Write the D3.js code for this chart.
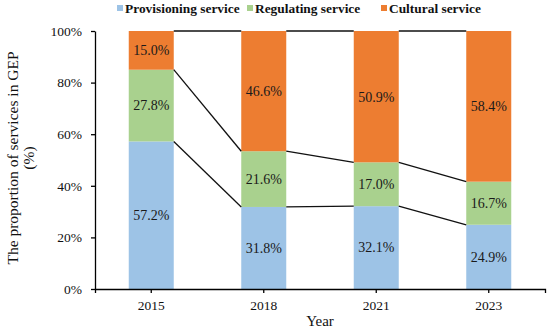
<!DOCTYPE html>
<html>
<head>
<meta charset="utf-8">
<script src="https://cdn.jsdelivr.net/npm/d3@7"></script>
<style>
  body { margin: 0; background: #fff; }
  svg { display: block; }
  svg text { font-family: "Liberation Serif", "Times New Roman", "DejaVu Serif", serif; }
</style>
</head>
<body>
<div id="chart"></div>
<script>
// chart data
var years = ["2015", "2018", "2021", "2023"];
var seriesNames = ["Provisioning service", "Regulating service", "Cultural service"];
var provisioning = [57.2, 31.8, 32.1, 24.9];
var regulating = [27.8, 21.6, 17.0, 16.7];
var cultural = [15.0, 46.6, 50.9, 58.4];
var yTicks = [0, 0.2, 0.4, 0.6, 0.8, 1.0];
var colors = ["#9DC3E6", "#A9D18E", "#ED7D31"];

var svgWidth = 550;
var svgHeight = 330;
var margin = { top: 31, right: 5, bottom: 41, left: 95 };
var chartWidth = svgWidth - margin.left - margin.right;
var chartHeight = svgHeight - margin.top - margin.bottom;

var svg = d3.select("#chart")
  .append("svg")
  .attr("width", svgWidth)
  .attr("height", svgHeight);

var chartGroup = svg.append("g")
  .attr("transform", `translate(${margin.left}, ${margin.top})`);

// build rows for stacking
var rows = years.map(function(y, i) {
  return { year: y, p: provisioning[i], r: regulating[i], c: cultural[i] };
});
var stack = d3.stack().keys(["p", "r", "c"]);
var layers = stack(rows);

var xScale = d3.scaleBand()
  .domain(years)
  .range([0, chartWidth])
  .paddingInner(0.6)
  .paddingOuter(0.3);

var yScale = d3.scaleLinear()
  .domain([0, 100])
  .range([chartHeight, 0]);

var bw = xScale.bandwidth();

// bars
var layerGroups = chartGroup.selectAll(".layer")
  .data(layers)
  .enter().append("g")
  .attr("class", "layer")
  .attr("fill", (d, i) => colors[i]);

layerGroups.selectAll("rect")
  .data(d => d)
  .enter().append("rect")
  .attr("x", d => xScale(d.data.year))
  .attr("y", d => yScale(d[1]))
  .attr("width", bw)
  .attr("height", d => yScale(d[0]) - yScale(d[1]));

// connector lines between the bars
layers.forEach(function(layer) {
  for (var i = 0; i < layer.length - 1; i++) {
    chartGroup.append("line")
      .attr("x1", xScale(years[i]) + bw)
      .attr("y1", yScale(layer[i][1]))
      .attr("x2", xScale(years[i + 1]))
      .attr("y2", yScale(layer[i + 1][1]))
      .attr("stroke", "#111")
      .attr("stroke-width", 1.3);
  }
});

// value labels
layers.forEach(function(layer, k) {
  chartGroup.selectAll(".lbl" + k)
    .data(layer)
    .enter().append("text")
    .attr("class", "lbl" + k)
    .attr("x", d => xScale(d.data.year) + bw / 2)
    .attr("y", d => yScale((d[0] + d[1]) / 2))
    .attr("dy", "0.35em")
    .attr("text-anchor", "middle")
    .attr("font-size", 14)
    .attr("fill", "#1a1a1a")
    .text(d => (d[1] - d[0]).toFixed(1) + "%");
});

// axes
var leftAxis = d3.axisLeft(d3.scaleLinear().domain([0, 1]).range([chartHeight, 0]))
  .tickValues(yTicks)
  .tickFormat(d3.format(".0%"))
  .tickSize(4)
  .tickSizeOuter(0)
  .tickPadding(9);

var bottomAxis = d3.axisBottom(xScale)
  .tickSize(4)
  .tickSizeOuter(4)
  .tickPadding(7);

var yAxisG = chartGroup.append("g")
  .call(leftAxis);

var xAxisG = chartGroup.append("g")
  .attr("transform", `translate(0, ${chartHeight})`)
  .call(bottomAxis);

[yAxisG, xAxisG].forEach(function(g) {
  g.attr("font-family", "Liberation Serif, Times New Roman, serif").attr("font-size", 13.5);
  g.selectAll("path, line").attr("stroke", "#000").attr("stroke-width", 1.3);
  g.selectAll("text").attr("fill", "#111");
});

// axis titles
var yTitle = svg.append("text")
  .attr("transform", "translate(12.5, 158) rotate(-90)")
  .attr("text-anchor", "middle")
  .attr("font-size", 15.5)
  .attr("fill", "#111");
yTitle.append("tspan").attr("x", 0).attr("y", 0).attr("dy", "0.35em")
  .text("The proportion of services in GEP");
yTitle.append("tspan").attr("x", 0).attr("y", 16.5).attr("dy", "0.35em")
  .text("(%)");

svg.append("text")
  .attr("x", margin.left + chartWidth / 2)
  .attr("y", 321)
  .attr("dy", "0.35em")
  .attr("text-anchor", "middle")
  .attr("font-size", 15)
  .attr("fill", "#111")
  .text("Year");

// legend
var legendX = [117, 247, 381];
var legend = svg.selectAll(".legend")
  .data(seriesNames)
  .enter().append("g")
  .attr("class", "legend")
  .attr("transform", (d, i) => `translate(${legendX[i]}, 8)`);

legend.append("rect")
  .attr("x", 0)
  .attr("y", -3)
  .attr("width", 6)
  .attr("height", 6)
  .attr("fill", (d, i) => colors[i]);

legend.append("text")
  .attr("x", 8)
  .attr("y", 0)
  .attr("dy", "0.35em")
  .attr("font-size", 13.4)
  .attr("font-weight", "bold")
  .attr("fill", "#111")
  .text(d => d);
</script>
</body>
</html>
